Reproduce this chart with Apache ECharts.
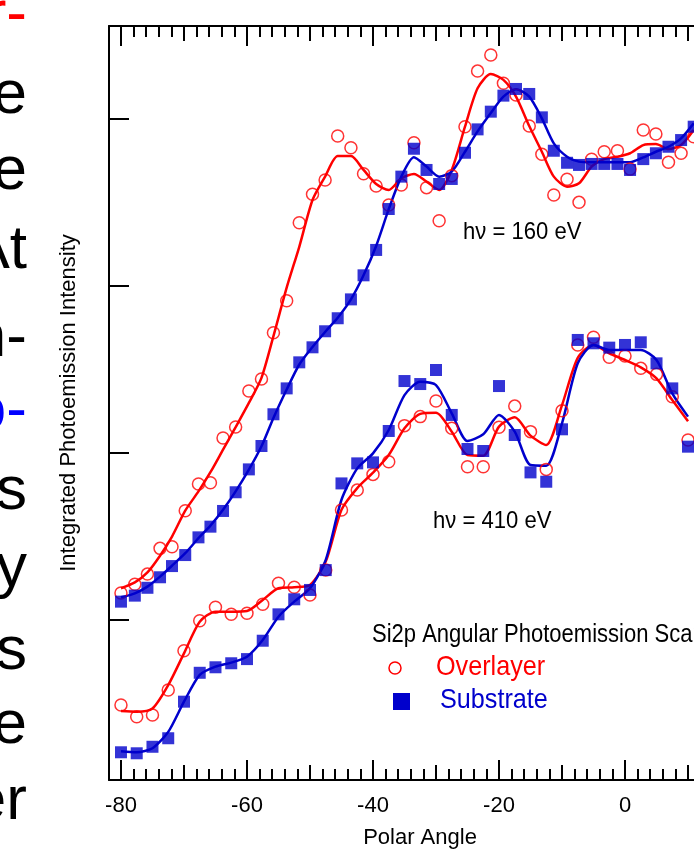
<!DOCTYPE html>
<html>
<head>
<meta charset="utf-8">
<title>Si2p Angular Photoemission Scan</title>
<script src="https://cdn.jsdelivr.net/npm/echarts@6/dist/echarts.min.js"></script>
<style>
  html, body { margin: 0; padding: 0; background: #fff; }
  #main { width: 694px; height: 853px; }
</style>
</head>
<body>
<div id="main"></div>
<script>
// polar angles of the scans (degrees)
var ANG_160 = [-80, -77.8, -75.8, -73.8, -71.9, -69.8, -67.7, -65.8, -63.8, -61.8, -59.7, -57.7, -55.8, -53.7,
  -51.7, -49.6, -47.6, -45.6, -43.5, -41.5, -39.5, -37.5, -35.5, -33.5, -31.5, -29.5, -27.5, -25.4, -23.4,
  -21.3, -19.3, -17.3, -15.2, -13.2, -11.3, -9.2, -7.3, -5.3, -3.3, -1.2, 0.8, 2.9, 4.9, 6.9, 8.9, 10.9];
var ANG_410 = [-80, -77.5, -75, -72.5, -70, -67.5, -65, -62.5, -60, -57.5, -55, -52.5, -50, -47.5, -45,
  -42.5, -40, -37.5, -35, -32.5, -30, -27.5, -25, -22.5, -20, -17.5, -15, -12.5, -10, -7.5, -5, -2.5,
  0, 2.5, 5, 7.5, 10];

// hv = 160 eV (arbitrary units, offset curves)
var OVER_160 = [1.162, 1.214, 1.275, 1.429, 1.439, 1.654, 1.814, 1.822, 2.090, 2.156, 2.371, 2.443, 2.720, 2.912,
  3.379, 3.549, 3.635, 3.898, 3.828, 3.672, 3.599, 3.485, 3.605, 3.858, 3.589, 3.391, 3.661, 3.954, 4.287,
  4.383, 4.214, 4.144, 3.958, 3.789, 3.545, 3.639, 3.501, 3.759, 3.804, 3.810, 3.700, 3.934, 3.910, 3.741, 3.795, 3.894];
var SUB_160 = [1.110, 1.146, 1.193, 1.256, 1.323, 1.389, 1.495, 1.559, 1.653, 1.765, 1.902, 2.042, 2.232, 2.387,
  2.543, 2.633, 2.729, 2.807, 2.920, 3.064, 3.216, 3.461, 3.655, 3.822, 3.695, 3.611, 3.641, 3.798, 3.938,
  4.044, 4.140, 4.180, 4.150, 4.010, 3.810, 3.738, 3.725, 3.731, 3.731, 3.731, 3.695, 3.760, 3.795, 3.834, 3.874, 3.954];
var OVER_FIT_160 = [1.190, 1.225, 1.285, 1.385, 1.500, 1.655, 1.770, 1.885, 2.020, 2.155, 2.300, 2.450, 2.700, 2.990,
  3.235, 3.515, 3.655, 3.778, 3.778, 3.695, 3.611, 3.575, 3.645, 3.671, 3.625, 3.575, 3.695, 3.954, 4.184,
  4.269, 4.234, 4.134, 3.958, 3.804, 3.655, 3.595, 3.615, 3.715, 3.760, 3.774, 3.795, 3.844, 3.850, 3.820, 3.844, 3.934];
var SUB_FIT_160 = [1.136, 1.160, 1.200, 1.260, 1.325, 1.400, 1.490, 1.565, 1.660, 1.770, 1.900, 2.040, 2.210, 2.380,
  2.530, 2.635, 2.725, 2.810, 2.920, 3.064, 3.240, 3.460, 3.655, 3.771, 3.715, 3.655, 3.685, 3.804, 3.926,
  4.036, 4.134, 4.178, 4.134, 4.004, 3.854, 3.774, 3.745, 3.741, 3.741, 3.741, 3.741, 3.770, 3.804, 3.834, 3.884, 3.974];

// hv = 410 eV
var OVER_410 = [0.491, 0.421, 0.431, 0.581, 0.816, 0.996, 1.076, 1.034, 1.040, 1.094, 1.220, 1.196, 1.150, 1.299,
  1.659, 1.778, 1.872, 1.948, 2.164, 2.218, 2.311, 2.148, 1.918, 1.918, 2.154, 2.281, 2.128, 1.902, 2.253,
  2.647, 2.693, 2.573, 2.581, 2.507, 2.471, 2.337, 2.078];
var SUB_410 = [0.208, 0.202, 0.241, 0.292, 0.511, 0.684, 0.717, 0.741, 0.766, 0.876, 1.034, 1.124, 1.180, 1.299,
  1.818, 1.938, 1.944, 2.132, 2.431, 2.413, 2.497, 2.228, 2.024, 2.012, 2.401, 2.108, 1.884, 1.828, 2.142,
  2.677, 2.657, 2.631, 2.647, 2.663, 2.537, 2.387, 2.038];
var OVER_FIT_410 = [0.455, 0.451, 0.470, 0.610, 0.800, 0.990, 1.050, 1.050, 1.054, 1.120, 1.190, 1.196, 1.210, 1.350,
  1.660, 1.790, 1.882, 1.988, 2.148, 2.234, 2.241, 2.128, 1.988, 1.984, 2.158, 2.214, 2.104, 2.048, 2.287,
  2.570, 2.647, 2.597, 2.557, 2.513, 2.447, 2.317, 2.190];
var SUB_FIT_410 = [0.214, 0.208, 0.232, 0.330, 0.511, 0.672, 0.721, 0.745, 0.780, 0.880, 1.020, 1.110, 1.190, 1.360,
  1.720, 1.908, 1.998, 2.138, 2.347, 2.427, 2.407, 2.238, 2.072, 2.112, 2.228, 2.128, 1.928, 1.924, 2.178,
  2.537, 2.647, 2.617, 2.617, 2.617, 2.557, 2.357, 2.218];

// axis ticks
var X_LABELS = [-80, -60, -40, -20, 0];
var X_MID = [-70, -50, -30, -10, 10];
var Y_TICKS = [1, 2, 3, 4];

var X_MINOR = [];
for (var t = -80; t <= 10; t += 2) X_MINOR.push(t);

var RED = '#ff0000';
var BLUE = '#0000cc';
var SANS = '"Liberation Sans", Arial, sans-serif';

function zip(xs, ys) {
  return xs.map(function (x, i) { return [x, ys[i]]; });
}

// one x axis per tick length (bottom and top, ticks pointing inward)
function tickAxis(pos, values, len, main) {
  return {
    type: 'value', position: pos, min: -81.9, max: 10.95,
    axisLine: { show: main, onZero: false, lineStyle: { color: '#000', width: 2 } },
    axisTick: { show: true, inside: true, length: len, customValues: values, lineStyle: { color: '#000', width: 2 } },
    axisLabel: main && pos === 'bottom' ? {
      show: true, customValues: X_LABELS, color: '#000', fontFamily: SANS, fontSize: 22, margin: 15
    } : { show: false },
    splitLine: { show: false }
  };
}

var xAxes = [
  tickAxis('bottom', X_LABELS, 20, true),
  tickAxis('bottom', X_MID, 15, false),
  tickAxis('bottom', X_MINOR, 11, false),
  tickAxis('top', X_LABELS, 20, true),
  tickAxis('top', X_MID, 15, false),
  tickAxis('top', X_MINOR, 11, false)
];
xAxes[0].name = 'Polar Angle';
xAxes[0].nameLocation = 'middle';
xAxes[0].nameGap = 47;
xAxes[0].nameTextStyle = { color: '#000', fontFamily: SANS, fontSize: 22, padding: [0, 0, 0, 37] };

function lineSeries(name, xs, ys, color) {
  return {
    name: name, type: 'line', data: zip(xs, ys), xAxisIndex: 0, yAxisIndex: 0,
    showSymbol: false, smooth: 0.25, z: 2, silent: true,
    lineStyle: { color: color, width: 2.5 }
  };
}
function circleSeries(xs, ys) {
  return {
    name: 'Overlayer', type: 'scatter', data: zip(xs, ys), symbol: 'circle', symbolSize: 12, z: 3,
    itemStyle: { color: 'rgba(0,0,0,0)', borderColor: RED, borderWidth: 1.5 }
  };
}
function squareSeries(xs, ys) {
  return {
    name: 'Substrate', type: 'scatter', data: zip(xs, ys), symbol: 'rect', symbolSize: 12, z: 4,
    itemStyle: { color: BLUE }
  };
}

// clipped text of the neighbouring page column (baseline y given)
var SIDE_TEXT = [
  ['r-', RED, 37], ['e', '#000', 117], ['e', '#000', 193], ['At', '#000', 272], ['n-', '#000', 360],
  ['o-', '#0000ff', 433], ['s', '#000', 513], ['y', '#000', 590], ['s', '#000', 673], ['e', '#000', 747],
  ['er', '#000', 823]
];

// text placed by its baseline; sx narrows the face like the original condensed font
function txt(text, x, baseline, size, color, align, sx) {
  return {
    type: 'text', x: x, y: baseline - 0.3465 * size, scaleX: sx || 1, silent: true,
    style: { text: text, fill: color, font: size + 'px ' + SANS, align: align || 'left', verticalAlign: 'middle' }
  };
}

var graphics = SIDE_TEXT.map(function (s) { return txt(s[0], 27, s[2], 62, s[1], 'right'); });
graphics.push(txt('h\u03bd = 160 eV', 463, 241, 24, '#000', 'left', 0.92));
graphics.push(txt('h\u03bd = 410 eV', 433, 530, 24, '#000', 'left', 0.92));
graphics.push(txt('Si2p Angular Photoemission Scan', 372, 644, 25, '#000', 'left', 0.88));
graphics.push({ type: 'circle', shape: { cx: 395, cy: 668, r: 6 }, style: { fill: 'none', stroke: RED, lineWidth: 1.5 } });
graphics.push(txt('Overlayer', 436, 677, 28, RED, 'left', 0.9));
graphics.push({ type: 'rect', shape: { x: 393, y: 693, width: 17, height: 17 }, style: { fill: BLUE } });
graphics.push(txt('Substrate', 440, 710, 28, BLUE, 'left', 0.9));

var chart = echarts.init(document.getElementById('main'), null, { renderer: 'canvas' });
chart.setOption({
  animation: false,
  backgroundColor: '#fff',
  grid: { left: 109, top: 26, right: 0, bottom: 73, containLabel: false, outerBoundsMode: 'none' },
  xAxis: xAxes,
  yAxis: {
    type: 'value', min: 0.042, max: 4.557, position: 'left',
    name: 'Integrated Photoemission Intensity', nameLocation: 'middle', nameRotate: 90, nameGap: 29,
    nameTextStyle: { color: '#000', fontFamily: SANS, fontSize: 22 },
    axisLine: { show: true, onZero: false, lineStyle: { color: '#000', width: 2 } },
    axisTick: { show: true, inside: true, length: 20, customValues: Y_TICKS, lineStyle: { color: '#000', width: 2 } },
    axisLabel: { show: false },
    splitLine: { show: false }
  },
  series: [
    lineSeries('Overlayer fit 160 eV', ANG_160, OVER_FIT_160, RED),
    lineSeries('Substrate fit 160 eV', ANG_160, SUB_FIT_160, BLUE),
    lineSeries('Overlayer fit 410 eV', ANG_410, OVER_FIT_410, RED),
    lineSeries('Substrate fit 410 eV', ANG_410, SUB_FIT_410, BLUE),
    circleSeries(ANG_160, OVER_160),
    circleSeries(ANG_410, OVER_410),
    squareSeries(ANG_160, SUB_160),
    squareSeries(ANG_410, SUB_410)
  ],
  graphic: graphics
});
</script>
</body>
</html>
